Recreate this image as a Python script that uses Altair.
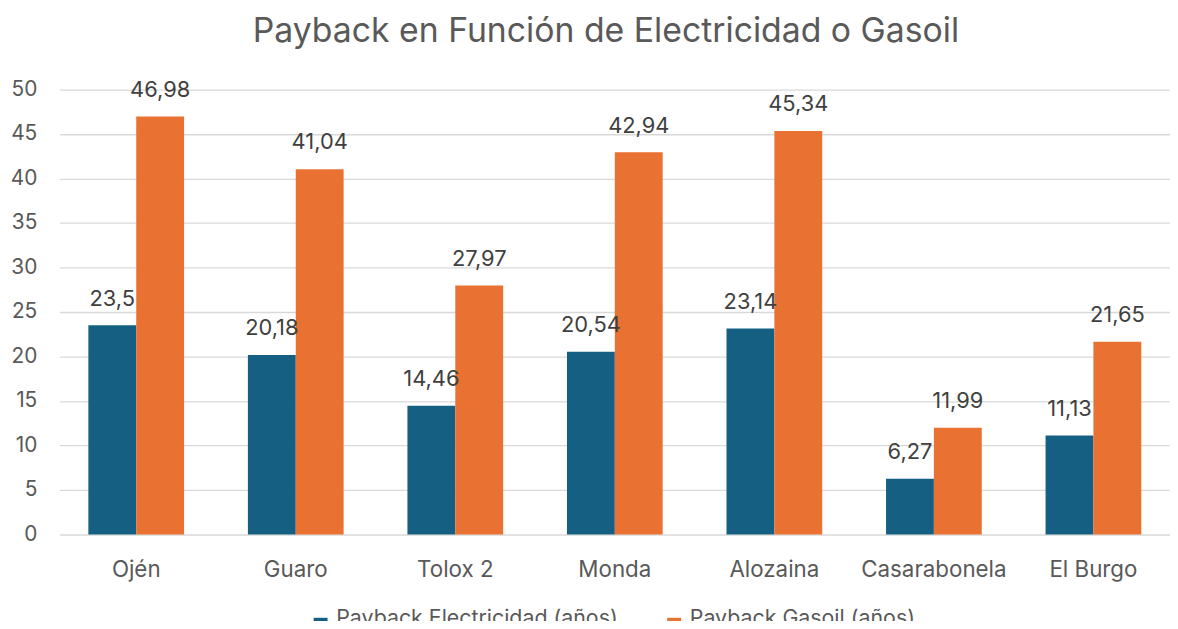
import altair as alt
import pandas as pd

categories = ["Ojén", "Guaro", "Tolox 2", "Monda", "Alozaina", "Casarabonela", "El Burgo"]
series = ["Payback Electricidad (años)", "Payback Gasoil (años)"]
electricidad = [23.5, 20.18, 14.46, 20.54, 23.14, 6.27, 11.13]
gasoil = [46.98, 41.04, 27.97, 42.94, 45.34, 11.99, 21.65]
colors = ["#156082", "#E97132"]
y_ticks = [0, 5, 10, 15, 20, 25, 30, 35, 40, 45, 50]

rows = []
for c, e, g in zip(categories, electricidad, gasoil):
    for s, v in ((series[0], e), (series[1], g)):
        rows.append({"cat": c, "serie": s, "val": v, "lab": f"{v:g}".replace(".", ",")})
df = pd.DataFrame(rows)

FONT = "Inter"
GRAY = "#595959"

x = alt.X("cat:N", sort=categories, title=None,
          scale=alt.Scale(paddingInner=0.4, paddingOuter=0.18),
          axis=alt.Axis(labelAngle=0, labelFontSize=22.5, labelColor=GRAY, labelFont=FONT,
                        labelBaseline="alphabetic", labelPadding=42,
                        domain=False, ticks=False, grid=False))
xo = alt.XOffset("serie:N", sort=series, scale=alt.Scale(paddingInner=0, paddingOuter=0))
y = alt.Y("val:Q", title=None,
          scale=alt.Scale(domain=[0, 50], nice=False),
          axis=alt.Axis(values=y_ticks, labelFontSize=21, labelColor=GRAY, labelFont=FONT,
                        labelPadding=23, domain=False, ticks=False, grid=True,
                        gridColor="#d9d9d9", gridWidth=1.3))

base = alt.Chart(df)
bars = base.mark_bar().encode(
    x=x, xOffset=xo, y=y,
    color=alt.Color("serie:N", sort=series, title=None,
                    scale=alt.Scale(domain=series, range=colors),
                    legend=alt.Legend(orient="none", legendX=252, legendY=528,
                                      direction="horizontal", symbolType="square",
                                      symbolSize=196, symbolStrokeWidth=0,
                                      labelFontSize=21.5, labelColor=GRAY, labelFont=FONT,
                                      labelBaseline="alphabetic",
                                      labelOffset=5, columnPadding=45, labelLimit=400)),
)
labels = base.mark_text(baseline="alphabetic", dy=-20, fontSize=22, color="#404040", font=FONT).encode(
    x=x, xOffset=xo, y=y, text="lab:N"
)

chart = (bars + labels).properties(
    width=1118, height=448,
    title=alt.TitleParams("Payback en Función de Electricidad o Gasoil", fontSize=34,
                          color=GRAY, font=FONT, fontWeight="normal", anchor="middle",
                          offset=30, dx=-9),
    padding={"left": 52, "top": 80, "right": 0, "bottom": 85},
    autosize=alt.AutoSizeParams(type="none"),
).configure_view(stroke=None)

chart.save("out.html", embed_options={"renderer": "svg", "actions": False})
